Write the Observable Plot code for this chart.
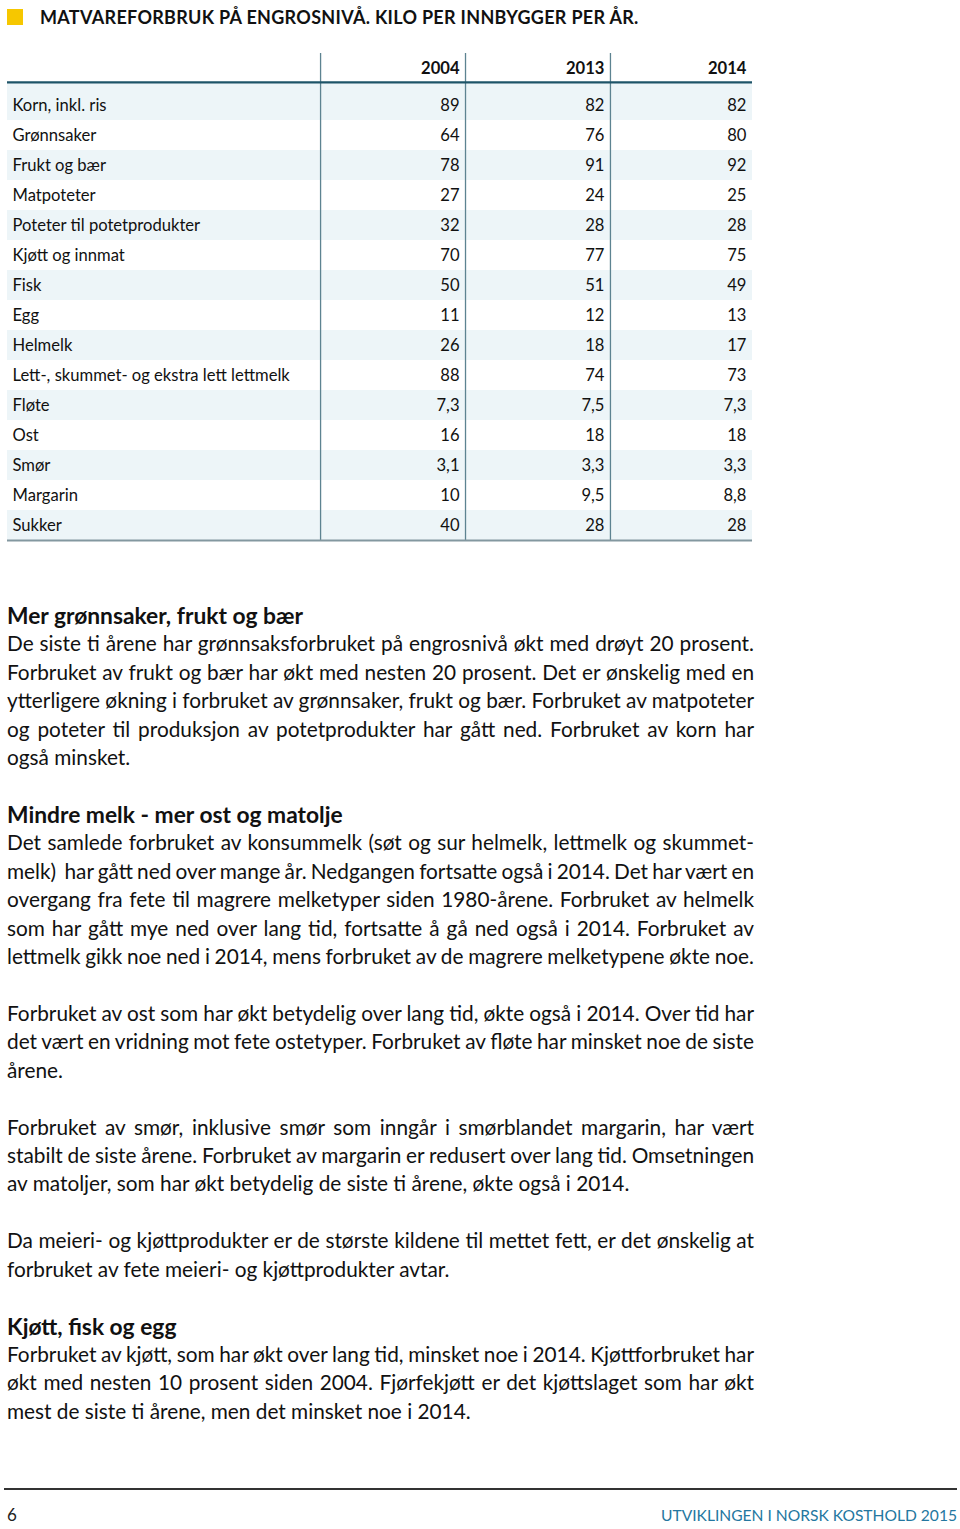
<!DOCTYPE html>
<html lang="no">
<head>
<meta charset="utf-8">
<script src="https://cdn.jsdelivr.net/npm/d3@7"></script>
<script src="https://cdn.jsdelivr.net/npm/@observablehq/plot@0.6"></script>
<style>
  html, body { margin: 0; padding: 0; background: #fff; }
  body { position: relative; width: 960px; height: 1529px; font-family: Lato, "Open Sans", sans-serif; color: #111; overflow: hidden; }
  #square { position: absolute; left: 7px; top: 9px; width: 16px; height: 16px; background: #f6c700; }
  #title { position: absolute; left: 40px; top: 6px; font-size: 18px; font-weight: 700; line-height: 22px; letter-spacing: 0.3px; color: #111; white-space: nowrap; }
  #chart { position: absolute; left: 0; top: 40px; }
  #text { position: absolute; left: 7px; top: 601px; width: 747px; font-size: 20.8px; line-height: 28.43px; }
  #text div { white-space: nowrap; height: 28.43px; }
  #text .j { text-align: justify; text-align-last: justify; white-space: normal; overflow: visible; word-spacing: -4px; }
  #text .h { font-weight: 700; font-size: 22.8px; }
  #footrule { position: absolute; left: 4px; top: 1488px; width: 953px; height: 1.5px; background: #333; }
  #pagenum { position: absolute; left: 7px; top: 1503px; font-size: 17px; line-height: 24px; color: #222; }
  #foottitle { position: absolute; right: 3px; top: 1503px; font-size: 15.6px; line-height: 24px; color: #2477a0; }
</style>
</head>
<body>
<div id="square"></div>
<div id="title">MATVAREFORBRUK PÅ ENGROSNIVÅ. KILO PER INNBYGGER PER ÅR.</div>
<div id="chart"></div>
<div id="text">
  <div class="h">Mer grønnsaker, frukt og bær</div>
  <div class="j">De siste ti årene har grønnsaksforbruket på engrosnivå økt med drøyt 20 prosent.</div>
  <div class="j">Forbruket av frukt og bær har økt med nesten 20 prosent. Det er ønskelig med en</div>
  <div class="j">ytterligere økning i forbruket av grønnsaker, frukt og bær. Forbruket av matpoteter</div>
  <div class="j">og poteter til produksjon av potetprodukter har gått ned. Forbruket av korn har</div>
  <div>også minsket.</div>
  <div></div>
  <div class="h">Mindre melk - mer ost og matolje</div>
  <div class="j">Det samlede forbruket av konsummelk (søt og sur helmelk, lettmelk og skummet-</div>
  <div class="j">melk)&nbsp; har gått ned over mange år. Nedgangen fortsatte også i 2014. Det har vært en</div>
  <div class="j">overgang fra fete til magrere melketyper siden 1980-årene. Forbruket av helmelk</div>
  <div class="j">som har gått mye ned over lang tid, fortsatte å gå ned også i 2014. Forbruket av</div>
  <div class="j">lettmelk gikk noe ned i 2014, mens forbruket av de magrere melketypene økte noe.</div>
  <div></div>
  <div class="j">Forbruket av ost som har økt betydelig over lang tid, økte også i 2014. Over tid har</div>
  <div class="j">det vært en vridning mot fete ostetyper. Forbruket av fløte har minsket noe de siste</div>
  <div>årene.</div>
  <div></div>
  <div class="j">Forbruket av smør, inklusive smør som inngår i smørblandet margarin, har vært</div>
  <div class="j">stabilt de siste årene. Forbruket av margarin er redusert over lang tid. Omsetningen</div>
  <div>av matoljer, som har økt betydelig de siste ti årene, økte også i 2014.</div>
  <div></div>
  <div class="j">Da meieri- og kjøttprodukter er de største kildene til mettet fett, er det ønskelig at</div>
  <div>forbruket av fete meieri- og kjøttprodukter avtar.</div>
  <div></div>
  <div class="h">Kjøtt, fisk og egg</div>
  <div class="j">Forbruket av kjøtt, som har økt over lang tid, minsket noe i 2014. Kjøttforbruket har</div>
  <div class="j">økt med nesten 10 prosent siden 2004. Fjørfekjøtt er det kjøttslaget som har økt</div>
  <div>mest de siste ti årene, men det minsket noe i 2014.</div>
</div>
<div id="footrule"></div>
<div id="pagenum">6</div>
<div id="foottitle">UTVIKLINGEN I NORSK KOSTHOLD 2015</div>
<script>
// ---- data ----
const categories = [
  "Korn, inkl. ris", "Grønnsaker", "Frukt og bær", "Matpoteter", "Poteter til potetprodukter",
  "Kjøtt og innmat", "Fisk", "Egg", "Helmelk", "Lett-, skummet- og ekstra lett lettmelk",
  "Fløte", "Ost", "Smør", "Margarin", "Sukker"
];
const years = ["2004", "2013", "2014"];
const values2004 = [89, 64, 78, 27, 32, 70, 50, 11, 26, 88, 7.3, 16, 3.1, 10, 40];
const values2013 = [82, 76, 91, 24, 28, 77, 51, 12, 18, 74, 7.5, 18, 3.3, 9.5, 28];
const values2014 = [82, 80, 92, 25, 28, 75, 49, 13, 17, 73, 7.3, 18, 3.3, 8.8, 28];

// ---- table built from the arrays ----
const series = [values2004, values2013, values2014];
const rows = categories.map((cat, i) => ({cat, i}));
const cells = [];
years.forEach((yr, k) => rows.forEach(r => cells.push({year: yr, k, i: r.i, value: series[k][r.i]})));
const fmt = v => String(v).replace(".", ",");

// layout (column units): label column is wider than value columns
const colEnd = [2.16, 3.16, 4.16, 5.14];
const tableEnd = colEnd[3];

const chart = Plot.plot({
  width: 960,
  height: 520,
  margin: 0,
  x: {domain: [0, tableEnd], range: [7, 752], axis: null},
  y: {domain: [-2, 15], range: [5, 515], axis: null},
  style: {fontFamily: "Lato, 'Open Sans', sans-serif", fontSize: "16.6px", color: "#111", background: "transparent"},
  marks: [
    Plot.rect(rows.filter(r => r.i % 2 === 0), {
      x1: 0, x2: tableEnd,
      y1: r => r.i === 0 ? -0.75 : r.i - 0.5,
      y2: r => r.i + 0.5,
      fill: "#edf5f8"
    }),
    Plot.ruleX(colEnd.slice(0, 3), {y1: -1.73, y2: 14.5, stroke: "#5d8391", strokeWidth: 1.3}),
    Plot.ruleY([-0.77], {x1: 0, x2: tableEnd, stroke: "#1e5468", strokeWidth: 2.3}),
    Plot.ruleY([14.5], {x1: 0, x2: tableEnd, stroke: "#8398a0", strokeWidth: 2}),
    Plot.text(years, {
      x: (d, k) => colEnd[k + 1], y: -1.23, text: d => d,
      textAnchor: "end", dx: -6, fontWeight: "bold", fill: "#111"
    }),
    Plot.text(rows, {x: 0, y: "i", text: "cat", textAnchor: "start", dx: 5, fill: "#111"}),
    Plot.text(cells, {
      x: d => colEnd[d.k + 1], y: "i", text: d => fmt(d.value),
      textAnchor: "end", dx: -6, fill: "#111"
    })
  ]
});
document.getElementById("chart").appendChild(chart);
</script>
</body>
</html>
